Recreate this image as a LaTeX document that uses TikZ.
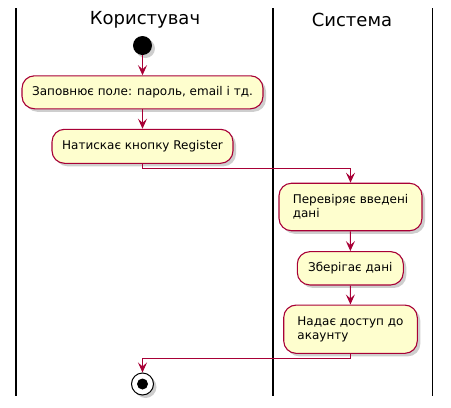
\documentclass[tikz,border=0pt]{standalone}
\usepackage{fontspec}
\setmainfont{DejaVu Sans}
\usetikzlibrary{arrows.meta,shadows,calc}
\definecolor{umlred}{HTML}{A80036}
\definecolor{umlfill}{HTML}{FEFECE}
\begin{document}
\begin{tikzpicture}[x=1pt,y=-1pt,
  shad/.style={drop shadow={shadow xshift=3pt,shadow yshift=-3pt,opacity=0.35,fill=black!55}},
  act/.style={rectangle,rounded corners=12.5pt,draw=umlred,fill=umlfill,line width=1.1pt,
    inner sep=0pt,align=left,font=\fontsize{12}{14}\selectfont,shad},
  flow/.style={draw=umlred,line width=1pt,-{Stealth[length=10pt,width=9pt,inset=4pt]}},
  lane/.style={draw=black,line width=1.6pt},
  title/.style={font=\fontsize{18}{20}\selectfont,inner sep=0pt}]
\useasboundingbox (0,0) rectangle (451,408);
% swimlanes
\coordinate (l1t) at (16,8);  \coordinate (l1b) at (16,396);
\coordinate (l2t) at (273,8); \coordinate (l2b) at (273,396);
\coordinate (l3t) at (432.5,8); \coordinate (l3b) at (432.5,396);
\draw[lane] (l1t) -- (l1b);
\draw[lane] (l2t) -- (l2b);
\draw[lane] (l3t) -- (l3b);
\node[title] (t1) at (145,20) {Користувач};
\node[title] (t2) at (352,20) {Система};
% start
\node[circle,fill=black,minimum size=19pt,inner sep=0pt,shad] (start) at (142.5,45.5) {};
% activities
\node[act,minimum width=241pt,minimum height=33pt] (b1) at (142.5,92.3) {Заповнює поле: пароль, email і тд.};
\node[act,minimum width=181pt,minimum height=34pt] (b2) at (142.5,146.3) {Натискає кнопку Register};
\node[act,minimum width=143pt,minimum height=47.5pt] (b3) at (350.5,207) {Перевіряє введені\\дані};
\node[act,minimum width=106pt,minimum height=33.3pt] (b4) at (350.3,268.3) {Зберігає дані};
\node[act,minimum width=133.6pt,minimum height=48.3pt] (b5) at (350.5,329.2) {Надає доступ до\\акаунту};
% end
\node[circle,draw=black,fill=white,line width=1pt,minimum size=22pt,inner sep=0pt,shad] (end) at (142.5,384) {};
\node[circle,fill=black,minimum size=11pt,inner sep=0pt] (endin) at (end.center) {};
% flows
\draw[flow] (start) -- (b1);
\draw[flow] (b1) -- (b2);
\draw[flow] (b2.south) -- ++(0,5) -| (b3.north);
\draw[flow] (b3) -- (b4);
\draw[flow] (b4) -- (b5);
\draw[flow] (b5.south) -- ++(0,5) -| (end.north);
\end{tikzpicture}
\end{document}
